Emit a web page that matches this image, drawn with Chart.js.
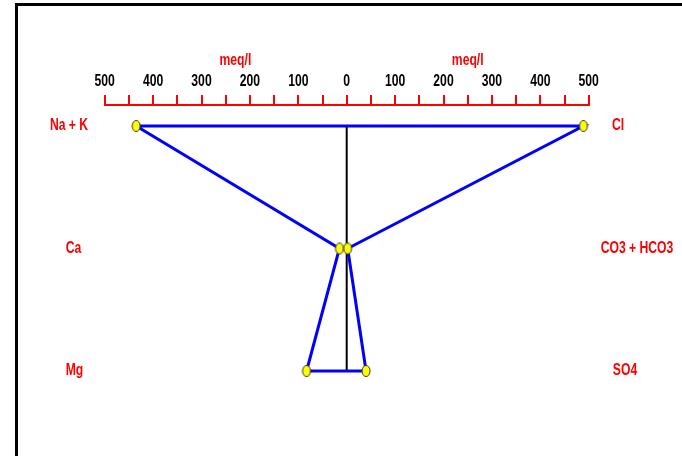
<!DOCTYPE html>
<html>
<head>
<meta charset="utf-8">
<title>Stiff diagram</title>
<script src="https://cdn.jsdelivr.net/npm/chart.js@4/dist/chart.umd.min.js"></script>
<style>
  html, body { margin: 0; padding: 0; background: #ffffff; }
  #stiff { display: block; }
</style>
</head>
<body>
<canvas id="stiff" width="682" height="456"></canvas>
<script>
// Ion names, left (cations) and right (anions), one per row
const cationNames = ['Na + K', 'Ca', 'Mg'];
const anionNames = ['Cl', 'CO3 + HCO3', 'SO4'];
// Concentrations in meq/l
const cationMeq = [435, 15, 83];
const anionMeq = [489, 2, 40];
// Scale: -500..500 meq/l, tick marks every 50, labels every 100
const axisLimit = 500;
const tickStep = 50;
const labelStep = 100;
const unitLabel = 'meq/l';

// Layout / styling
const FONT = '"Liberation Sans", Arial, sans-serif';
const RED = '#ff0000';
const BLUE = '#0000ff';
const NARROW = 0.76;               // horizontal squeeze for all text
const leftLabelCenters = [69, 73.5, 74.5];
const rightLabelCenters = [618, 637, 625];
const unitLabelValues = [-230, 250];

// Row indices
const rows = cationNames.map((_, i) => i);

// Outline of the diagram: cations plotted to the left (negative), anions to the right
const outline = [{ x: -cationMeq[0], y: rows[0] }];
rows.forEach(i => outline.push({ x: anionMeq[i], y: i }));
rows.slice().reverse().forEach(i => outline.push({ x: -cationMeq[i], y: i }));

const vertices = [];
rows.forEach(i => {
  vertices.push({ x: -cationMeq[i], y: i });
  vertices.push({ x: anionMeq[i], y: i });
});

const centerLine = [{ x: 0, y: rows[0] }, { x: 0, y: rows[rows.length - 1] }];

// Yellow elliptical marker
function makeMarker() {
  const c = document.createElement('canvas');
  c.width = 12; c.height = 14;
  const g = c.getContext('2d');
  g.beginPath();
  g.ellipse(6, 7, 4, 5.5, 0, 0, Math.PI * 2);
  g.fillStyle = '#ffff00';
  g.fill();
  g.lineWidth = 1;
  g.strokeStyle = '#3a3a10';
  g.stroke();
  return c;
}
const marker = makeMarker();

// Narrow caption text
function narrowText(ctx, text, x, y) {
  const w = ctx.measureText(text).width;
  ctx.fillText(text, x, y, w * NARROW);
}

// Frame, narrow tick labels, unit titles and ion names
const decorations = {
  id: 'decorations',
  beforeDraw(chart) {
    const ctx = chart.ctx;
    ctx.save();
    ctx.fillStyle = '#ffffff';
    ctx.fillRect(0, 0, chart.width, chart.height);
    ctx.fillStyle = '#000000';
    ctx.fillRect(15, 3, 3, chart.height - 3);
    ctx.fillRect(15, 3, chart.width - 15, 3);

    // squeeze the axis numbers the same way as the captions
    const xs = chart.scales.x;
    if (xs && typeof xs.getLabelItems === 'function') {
      xs.getLabelItems().forEach(item => {
        if (!item.options || !item.font) return;
        ctx.font = item.font.string;
        const w = ctx.measureText(String(item.label)).width;
        if (w > 0) item.options.maxWidth = w * NARROW;
      });
    }
    ctx.restore();
  },
  afterDraw(chart) {
    const ctx = chart.ctx;
    const xs = chart.scales.x;
    const ys = chart.scales.y;
    ctx.save();
    ctx.fillStyle = RED;
    ctx.font = 'bold 16px ' + FONT;
    ctx.textAlign = 'center';
    ctx.textBaseline = 'middle';
    unitLabelValues.forEach(v => narrowText(ctx, unitLabel, xs.getPixelForValue(v), 61));
    rows.forEach(i => {
      const y = ys.getPixelForValue(i);
      narrowText(ctx, cationNames[i], leftLabelCenters[i], y);
      narrowText(ctx, anionNames[i], rightLabelCenters[i], y);
    });
    ctx.restore();
  }
};

new Chart(document.getElementById('stiff'), {
  type: 'scatter',
  data: {
    datasets: [
      {
        label: 'ions',
        data: vertices,
        showLine: false,
        pointStyle: marker,
        pointRadius: 6,
        order: 0,
        clip: false
      },
      {
        label: 'outline',
        data: outline,
        showLine: true,
        borderColor: BLUE,
        borderWidth: 3,
        pointRadius: 0,
        fill: false,
        tension: 0,
        order: 1,
        clip: false
      },
      {
        label: 'axis',
        data: centerLine,
        showLine: true,
        borderColor: '#000000',
        borderWidth: 2,
        pointRadius: 0,
        order: 2,
        clip: false
      }
    ]
  },
  options: {
    responsive: false,
    animation: false,
    devicePixelRatio: 1,
    layout: { autoPadding: false, padding: { left: 104.7, right: 93.3, top: 0, bottom: 0 } },
    plugins: {
      legend: { display: false },
      tooltip: { enabled: false }
    },
    scales: {
      x: {
        type: 'linear',
        position: 'top',
        min: -axisLimit,
        max: axisLimit,
        afterFit(scale) { scale.height = 105; },
        grid: {
          drawOnChartArea: false,
          drawTicks: true,
          tickLength: 10,
          color: RED,
          lineWidth: 2
        },
        border: { display: true, color: RED, width: 2 },
        ticks: {
          stepSize: tickStep,
          autoSkip: false,
          maxRotation: 0,
          padding: 4,
          color: '#000000',
          font: { family: FONT, size: 16, weight: 'bold' },
          callback: v => (Math.round(v) % labelStep === 0 ? String(Math.abs(Math.round(v))) : '')
        }
      },
      y: {
        type: 'linear',
        display: false,
        reverse: true,
        min: -0.1714,
        max: 2.694
      }
    }
  },
  plugins: [decorations]
});
</script>
</body>
</html>
